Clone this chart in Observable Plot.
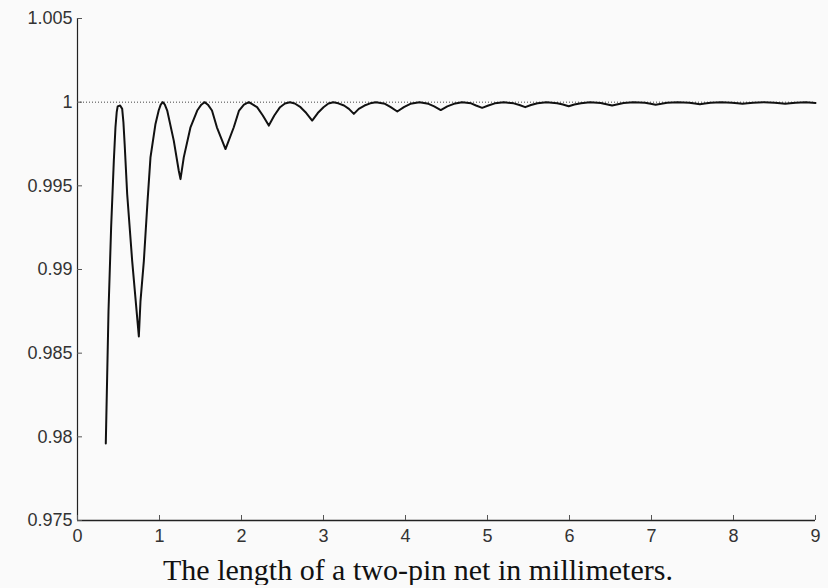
<!DOCTYPE html>
<html>
<head>
<meta charset="utf-8">
<script src="https://cdn.jsdelivr.net/npm/d3@7"></script>
<script src="https://cdn.jsdelivr.net/npm/@observablehq/plot@0.6"></script>
<style>
  html, body { margin: 0; padding: 0; background: #fafafa; }
  #chart { width: 828px; }
  #chart svg { display: block; background: #fafafa; }
  .caption {
    font-family: "Liberation Serif", "Times New Roman", serif;
    font-size: 30px;
    line-height: 30px;
    color: #111;
    margin-top: 7px;
    padding-left: 163px;
    white-space: nowrap;
  }
</style>
</head>
<body>
<div id="chart"></div>
<script>
// Length of the two-pin net (mm)
const lengthMm = [
  0.345, 0.378, 0.41, 0.443, 0.463, 0.478, 0.49, 0.52, 0.545, 0.56, 0.575, 0.606, 0.667, 0.748,
  0.768, 0.809, 0.853, 0.89, 0.951, 0.99, 1.015, 1.04, 1.065, 1.094,
  1.174, 1.235, 1.256, 1.296, 1.378, 1.46, 1.51, 1.55, 1.59,
  1.64, 1.70, 1.805, 1.906, 1.97, 2.03, 2.09, 2.14,
  2.19, 2.26, 2.333, 2.40, 2.47, 2.53, 2.59,
  2.65, 2.72, 2.79, 2.862, 2.93, 3.00, 3.06, 3.12,
  3.18, 3.25, 3.31, 3.37, 3.43, 3.50, 3.57, 3.64,
  3.75, 3.82, 3.90, 3.98, 4.06, 4.17,
  4.28, 4.35, 4.43, 4.51, 4.59, 4.69,
  4.80, 4.86, 4.935, 5.01, 5.09, 5.20,
  5.32, 5.39, 5.46, 5.53, 5.61, 5.72,
  5.85, 5.92, 5.99, 6.06, 6.14, 6.25,
  6.38, 6.45, 6.52, 6.59, 6.66, 6.78,
  6.92, 6.99, 7.05, 7.12, 7.19, 7.32,
  7.46, 7.53, 7.59, 7.65, 7.72, 7.85,
  7.98, 8.05, 8.11, 8.17, 8.24, 8.37,
  8.50, 8.57, 8.63, 8.69, 8.76, 8.88,
  9.0
];
// Ratio value
const ratio = [
  0.9796, 0.9875, 0.9925, 0.9965, 0.9985, 0.9994, 0.99975, 0.9998, 0.9996, 0.9988, 0.9975, 0.9945, 0.9905, 0.9860,
  0.9881, 0.9905, 0.9940, 0.9967, 0.9987, 0.9995, 0.99985, 1.0000, 0.99985, 0.9995,
  0.9977, 0.9959, 0.9954, 0.9967, 0.9985, 0.9995, 0.99985, 1.0000, 0.99985,
  0.9995, 0.9985, 0.9972, 0.9985, 0.9995, 0.99985, 1.0000, 0.99985,
  0.9997, 0.9992, 0.9986, 0.9992, 0.9997, 0.99992, 1.0000,
  0.99992, 0.9997, 0.99935, 0.9989, 0.99935, 0.9997, 0.99992, 1.0000,
  0.99993, 0.9998, 0.9996, 0.9993, 0.9996, 0.9998, 0.99993, 1.0000,
  0.9999, 0.9997, 0.99944, 0.9997, 0.9999, 1.0000,
  0.9999, 0.99975, 0.99953, 0.99975, 0.9999, 1.0000,
  0.99993, 0.9998, 0.99966, 0.9998, 0.99993, 1.0000,
  0.99993, 0.99983, 0.9997, 0.99983, 0.99993, 1.0000,
  0.99994, 0.99986, 0.99976, 0.99986, 0.99994, 1.0000,
  0.99995, 0.99988, 0.9998, 0.99988, 0.99995, 1.0000,
  0.99996, 0.9999, 0.99985, 0.9999, 0.99996, 1.0000,
  0.99997, 0.99992, 0.99987, 0.99992, 0.99997, 1.0000,
  0.99997, 0.99994, 0.9999, 0.99994, 0.99997, 1.0000,
  0.99997, 0.99994, 0.9999, 0.99994, 0.99997, 1.0000,
  0.99995
];
const xTicks = [0, 1, 2, 3, 4, 5, 6, 7, 8, 9];
const yTicks = [0.975, 0.98, 0.985, 0.99, 0.995, 1, 1.005];
const yTickLabels = ["0.975", "0.98", "0.985", "0.99", "0.995", "1", "1.005"];
const referenceLevel = [1];
const captionText = "The length of a two-pin net in millimeters.";

const data = lengthMm.map((x, i) => ({x, y: ratio[i]}));

const chart = Plot.plot({
  width: 828,
  height: 548,
  marginLeft: 77,
  marginRight: 13,
  marginTop: 18,
  marginBottom: 28,
  style: {background: "#fafafa", fontFamily: "'Liberation Sans', Arial, sans-serif"},
  x: {domain: [0, 9]},
  y: {domain: [0.975, 1.005]},
  marks: [
    Plot.ruleY(referenceLevel, {x1: 0, x2: 9, stroke: "#444", strokeWidth: 1, strokeDasharray: "1,2"}),
    Plot.line(data, {x: "x", y: "y", stroke: "#111", strokeWidth: 2, curve: "linear", strokeLinejoin: "round"}),
    Plot.ruleX([0], {stroke: "#222", strokeWidth: 1.2}),
    Plot.ruleY([0.975], {stroke: "#222", strokeWidth: 1.5}),
    Plot.axisY(yTicks, {
      anchor: "left", tickSize: -5, tickPadding: 10,
      tickFormat: d => yTickLabels[yTicks.indexOf(d)],
      fontSize: 18, fill: "#333", stroke: "#555", label: null
    }),
    Plot.axisX(xTicks, {
      anchor: "bottom", tickSize: -5, tickPadding: 14,
      tickFormat: d => String(d),
      fontSize: 18, fill: "#333", stroke: "#555", label: null
    })
  ]
});

const root = document.getElementById("chart");
root.appendChild(chart);
const cap = document.createElement("div");
cap.className = "caption";
cap.textContent = captionText;
root.appendChild(cap);
</script>
</body>
</html>
